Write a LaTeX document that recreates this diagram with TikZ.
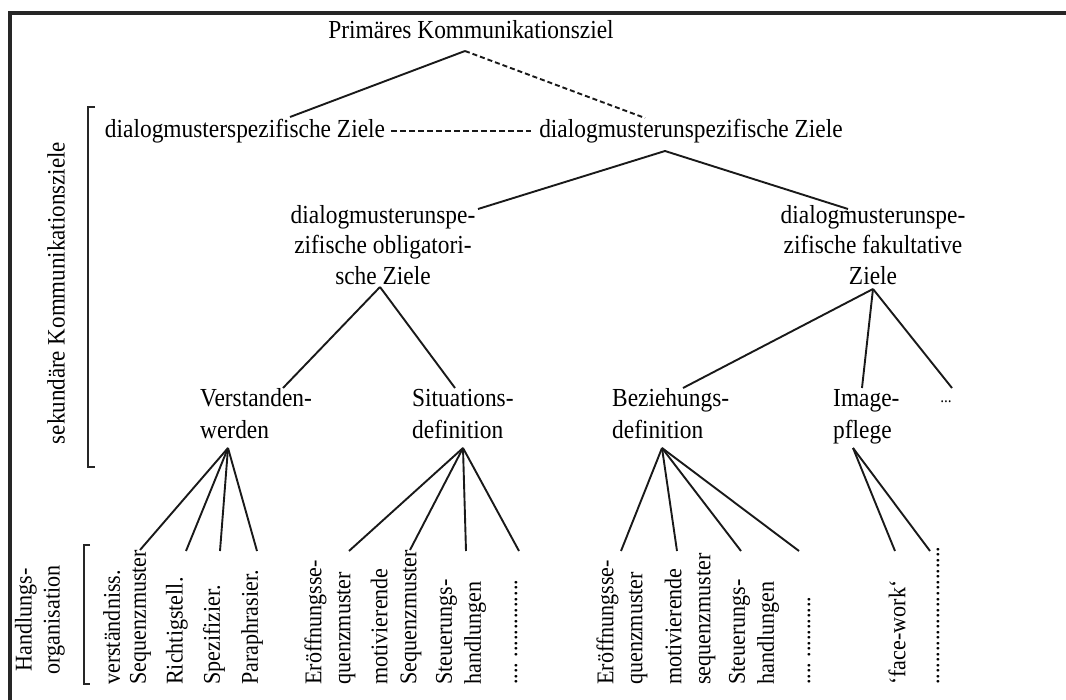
\documentclass[tikz,border=0pt]{standalone}
\usepackage{fontspec}
\setmainfont{Liberation Serif}
\newfontfamily\hfont[FakeStretch=0.9]{Liberation Serif}
\newfontfamily\vfont[FakeStretch=0.92]{Liberation Serif}
\usetikzlibrary{calc}
\begin{document}
\begin{tikzpicture}[x=1pt,y=-1pt,
  htext/.style={inner sep=0pt, font=\hfont\fontsize{26}{30.5}\selectfont, align=center},
  hleft/.style={inner sep=0pt, font=\hfont\fontsize{26}{31.5}\selectfont, align=left, anchor=west},
  vtext/.style={inner sep=0pt, rotate=90, anchor=west, font=\vfont\fontsize{24}{29}\selectfont, align=left},
  vlabel/.style={inner sep=0pt, rotate=90, font=\vfont\fontsize{24}{28}\selectfont, align=center},
  link/.style={line width=1.9pt, black!90},
  dlink/.style={link, dash pattern=on 5pt off 3pt},
  bracket/.style={line width=1.8pt, black!85},
  frame/.style={line width=4pt, black!85}]

\useasboundingbox (0,0) rectangle (1066,700);

% frame (top and left edges)
\draw[frame] (10,700) -- (10,13.5) -- (1066,13.5);

% level 1 and 2
\node[htext] (prim) at (471,30) {Primäres Kommunikationsziel};
\node[htext] (spec) at (245,131) {dialogmusterspezifische Ziele};
\node[htext] (unspec) at (691,131) {dialogmusterunspezifische Ziele};

\coordinate (prim-s) at (465,51);
\coordinate (spec-n) at (290,117);
\coordinate (unspec-n) at (645,118);
\coordinate (unspec-s) at (665,151);
\draw[link] (prim-s) -- (spec-n);
\draw[dlink] (prim-s) -- (unspec-n);
\draw[dlink, dash pattern=on 6pt off 3pt] ($(spec.east)+(6,0)$) -- ($(unspec.west)+(-8,0)$);

% level 3
\node[htext] (obl) at (383,245) {dialogmusterunspe-\\zifische obligatori-\\sche Ziele};
\node[htext] (fak) at (873,245) {dialogmusterunspe-\\zifische fakultative\\Ziele};
\coordinate (obl-n) at (478,209);
\coordinate (fak-n) at (848,209);
\coordinate (obl-s) at (380,287);
\coordinate (fak-s) at (873,289);
\draw[link] (unspec-s) -- (obl-n);
\draw[link] (unspec-s) -- (fak-n);

% level 4
\node[hleft] (verst) at (200,416) {Verstanden-\strut\\werden\strut};
\node[hleft] (sit) at (412,416) {Situations-\strut\\definition\strut};
\node[hleft] (bez) at (612,416) {Beziehungs-\strut\\definition\strut};
\node[hleft] (img) at (833,416) {Image-\strut\\pflege\strut};
\node[htext, font=\hfont\fontsize{17}{20}\selectfont] (more) at (946,402) {...};
\coordinate (verst-n) at (283,388);
\coordinate (sit-n) at (455,388);
\coordinate (bez-n) at (683,388);
\coordinate (img-n) at (862,388);
\coordinate (more-n) at (952,388);
\draw[link] (obl-s) -- (verst-n);
\draw[link] (obl-s) -- (sit-n);
\draw[link] (fak-s) -- (bez-n);
\draw[link] (fak-s) -- (img-n);
\draw[link] (fak-s) -- (more-n);

% side labels and brackets
\node[vlabel, font=\vfont\fontsize{25}{28}\selectfont] (sek) at (56,293) {sekundäre Kommunikationsziele};
\draw[bracket] (95,107) -- (88,107) -- (88,467) -- (95,467);
\node[vlabel] (hand) at (40,620) {Handlungs-\\organisation};
\draw[bracket] (90,545) -- (84,545) -- (84,684) -- (90,684);

% level 5
\node[vtext, font=\vfont\fontsize{24}{26}\selectfont] (a1) at (127,685) {verständniss.\\Sequenzmuster};
\node[vtext] (a2) at (177,685) {Richtigstell.};
\node[vtext] (a3) at (214,685) {Spezifizier.};
\node[vtext] (a4) at (252,685) {Paraphrasier.};

\node[vtext] (b1) at (330,685) {Eröffnungsse-\\quenzmuster};
\node[vtext] (b2) at (396,685) {motivierende\\Sequenzmuster};
\node[vtext] (b3) at (461,685) {Steuerungs-\\handlungen};
\node[vtext] (b4) at (516,685) {....\ ..............};

\node[vtext] (c1) at (622,685) {Eröffnungsse-\\quenzmuster};
\node[vtext] (c2) at (690,685) {motivierende\\sequenzmuster};
\node[vtext] (c3) at (754,685) {Steuerungs-\\handlungen};
\node[vtext] (c4) at (809,685) {....\ ...........};

\node[vtext] (d1) at (897,685) {‘face-work‘};
\node[vtext] (d2) at (938,685) {.........................};

% joints under level 4 and tops of level 5
\coordinate (verst-s) at (228,448);
\coordinate (sit-s) at (463,448);
\coordinate (bez-s) at (662,448);
\coordinate (img-s) at (853,448);

\coordinate (a1-n) at (140,550);
\coordinate (a2-n) at (186,551);
\coordinate (a3-n) at (220,551);
\coordinate (a4-n) at (257,551);
\coordinate (b1-n) at (349,551);
\coordinate (b2-n) at (410,550);
\coordinate (b3-n) at (466,551);
\coordinate (b4-n) at (519,551);
\coordinate (c1-n) at (621,551);
\coordinate (c2-n) at (677,551);
\coordinate (c3-n) at (741,551);
\coordinate (c4-n) at (799,551);
\coordinate (d1-n) at (895,551);
\coordinate (d2-n) at (930,551);

\foreach \t in {a1,a2,a3,a4} \draw[link] (verst-s) -- (\t-n);
\foreach \t in {b1,b2,b3,b4} \draw[link] (sit-s) -- (\t-n);
\foreach \t in {c1,c2,c3,c4} \draw[link] (bez-s) -- (\t-n);
\foreach \t in {d1,d2} \draw[link] (img-s) -- (\t-n);

\end{tikzpicture}
\end{document}
